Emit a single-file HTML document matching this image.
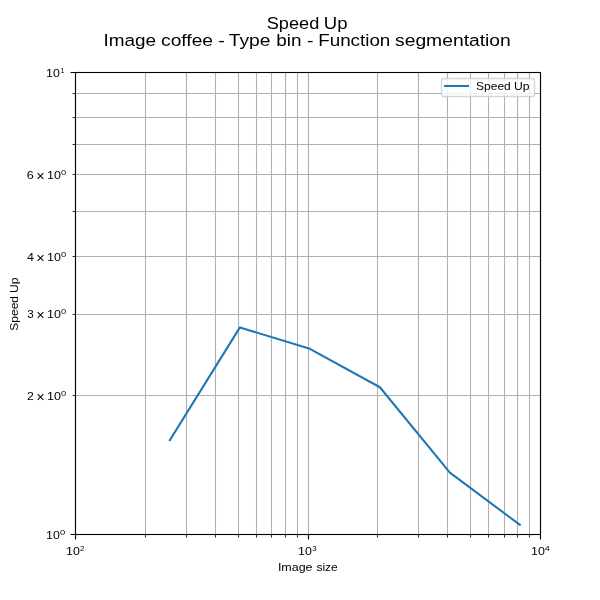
<!DOCTYPE html>
<html lang="en"><head><meta charset="utf-8"><title>Speed Up - Image coffee - Type bin - Function segmentation</title>
<style>
html,body{margin:0;padding:0;background:#fff;width:600px;height:600px;overflow:hidden}
svg{display:block;will-change:transform}
text{font-family:"Liberation Sans",sans-serif;fill:#000}
</style></head><body>
<svg width="600" height="600" viewBox="0 0 600 600">
<rect x="0" y="0" width="600" height="600" fill="#fff"/>
<path d="M75.5 72.0V534.0M145.5 72.0V534.0M186.5 72.0V534.0M215.5 72.0V534.0M238.5 72.0V534.0M256.5 72.0V534.0M271.5 72.0V534.0M285.5 72.0V534.0M297.5 72.0V534.0M308.5 72.0V534.0M377.5 72.0V534.0M418.5 72.0V534.0M447.5 72.0V534.0M470.5 72.0V534.0M488.5 72.0V534.0M504.5 72.0V534.0M517.5 72.0V534.0M529.5 72.0V534.0M540.5 72.0V534.0M75.0 534.5H540.0M75.0 395.5H540.0M75.0 314.5H540.0M75.0 256.5H540.0M75.0 211.5H540.0M75.0 174.5H540.0M75.0 144.5H540.0M75.0 117.5H540.0M75.0 93.5H540.0M75.0 72.5H540.0" stroke="#b0b0b0" stroke-width="1.111" fill="none"/>
<polyline points="169.92,440.15 239.91,327.40 309.89,348.85 379.88,387.25 449.87,472.70 519.86,524.80" fill="none" stroke="#1f77b4" stroke-width="2.083" stroke-linejoin="round" stroke-linecap="square"/>
<path d="M75.5 534.5V539.5M308.5 534.5V539.5M540.5 534.5V539.5M75.5 534.5H70.5M75.5 72.5H70.5" stroke="#000" stroke-width="1.111" fill="none"/>
<path d="M145.5 534.5V537.5M186.5 534.5V537.5M215.5 534.5V537.5M238.5 534.5V537.5M256.5 534.5V537.5M271.5 534.5V537.5M285.5 534.5V537.5M297.5 534.5V537.5M377.5 534.5V537.5M418.5 534.5V537.5M447.5 534.5V537.5M470.5 534.5V537.5M488.5 534.5V537.5M504.5 534.5V537.5M517.5 534.5V537.5M529.5 534.5V537.5M75.5 395.5H72.5M75.5 314.5H72.5M75.5 256.5H72.5M75.5 211.5H72.5M75.5 174.5H72.5M75.5 144.5H72.5M75.5 117.5H72.5M75.5 93.5H72.5" stroke="#000" stroke-width="0.833" fill="none"/>
<rect x="75.5" y="72.5" width="465.0" height="462.0" fill="none" stroke="#000" stroke-width="1.111"/>
<rect x="441.5" y="78.5" width="93" height="18" rx="2.2" ry="2.2" fill="#fff" fill-opacity="0.8" stroke="#ccc" stroke-opacity="0.8" stroke-width="1.389"/>
<path d="M445 86H468" stroke="#1f77b4" stroke-width="2.083" stroke-linecap="square" fill="none"/>
<g style="filter:grayscale(1)">
<text transform="translate(266.77 29.00) scale(1.0674 1)" font-size="17.0">Speed</text>
<text transform="translate(323.80 29.00) scale(1.0904 1)" font-size="17.0">Up</text>
<text transform="translate(103.49 46.00) scale(1.1142 1)" font-size="17.0">Image</text>
<text transform="translate(161.05 46.00) scale(1.1303 1)" font-size="17.0">coffee</text>
<text transform="translate(218.13 46.00) scale(1.1636 1)" font-size="17.0">-</text>
<text transform="translate(228.78 46.00) scale(1.1329 1)" font-size="17.0">Type</text>
<text transform="translate(276.25 46.00) scale(1.1122 1)" font-size="17.0">bin</text>
<text transform="translate(306.95 46.00) scale(1.1394 1)" font-size="17.0">-</text>
<text transform="translate(318.18 46.00) scale(1.1076 1)" font-size="17.0">Function</text>
<text transform="translate(395.03 46.00) scale(1.1353 1)" font-size="17.0">segmentation</text>
<text transform="translate(277.90 571.00) scale(1.0954 1)" font-size="11.4">Image</text>
<text transform="translate(316.40 571.00) scale(1.0581 1)" font-size="11.4">size</text>
<text transform="translate(476.07 90.00) scale(1.0551 1)" font-size="11.4">Speed</text>
<text transform="translate(514.07 90.00) scale(1.0642 1)" font-size="11.4">Up</text>
<text transform="translate(18 330.63) rotate(-90) scale(1.0520 1)" font-size="11.4">Speed</text>
<text transform="translate(18 292.98) rotate(-90) scale(1.0679 1)" font-size="11.4">Up</text>
<text transform="translate(26.71 179.00) scale(1.1048 1)" font-size="11.4">6</text>
<text transform="translate(36.36 180.60) scale(1.0449 1)" font-size="13.9" fill="#333">×</text>
<text transform="translate(46.94 179.00) scale(1.0989 1)" font-size="11.4">10</text>
<text transform="translate(60.90 175.00) scale(1.1871 1)" font-size="7.9">0</text>
<text transform="translate(26.93 261.00) scale(1.0957 1)" font-size="11.4">4</text>
<text transform="translate(36.36 262.60) scale(1.0449 1)" font-size="13.9" fill="#333">×</text>
<text transform="translate(46.94 261.00) scale(1.0989 1)" font-size="11.4">10</text>
<text transform="translate(60.90 257.00) scale(1.1871 1)" font-size="7.9">0</text>
<text transform="translate(27.19 318.00) scale(1.0233 1)" font-size="11.4">3</text>
<text transform="translate(36.36 319.60) scale(1.0449 1)" font-size="13.9" fill="#333">×</text>
<text transform="translate(46.94 318.00) scale(1.0989 1)" font-size="11.4">10</text>
<text transform="translate(60.90 314.00) scale(1.1871 1)" font-size="7.9">0</text>
<text transform="translate(27.03 400.00) scale(1.0732 1)" font-size="11.4">2</text>
<text transform="translate(36.36 401.60) scale(1.0449 1)" font-size="13.9" fill="#333">×</text>
<text transform="translate(46.94 400.00) scale(1.0989 1)" font-size="11.4">10</text>
<text transform="translate(60.90 396.00) scale(1.1871 1)" font-size="7.9">0</text>
<text transform="translate(46.05 77.00) scale(1.0901 1)" font-size="11.4">10</text>
<text transform="translate(60.44 73.00) scale(0.8889 1)" font-size="7.9">1</text>
<text transform="translate(46.05 539.00) scale(1.0901 1)" font-size="11.4">10</text>
<text transform="translate(59.90 535.00) scale(1.1871 1)" font-size="7.9">0</text>
<text transform="translate(66.05 555.00) scale(1.0901 1)" font-size="11.4">10</text>
<text transform="translate(80.03 551.00) scale(0.9931 1)" font-size="7.9">2</text>
<text transform="translate(298.05 555.00) scale(1.0901 1)" font-size="11.4">10</text>
<text transform="translate(312.23 551.00) scale(0.9931 1)" font-size="7.9">3</text>
<text transform="translate(531.05 555.00) scale(1.0901 1)" font-size="11.4">10</text>
<text transform="translate(544.86 551.00) scale(1.1500 1)" font-size="7.9">4</text>
</g>
</svg>
</body></html>
